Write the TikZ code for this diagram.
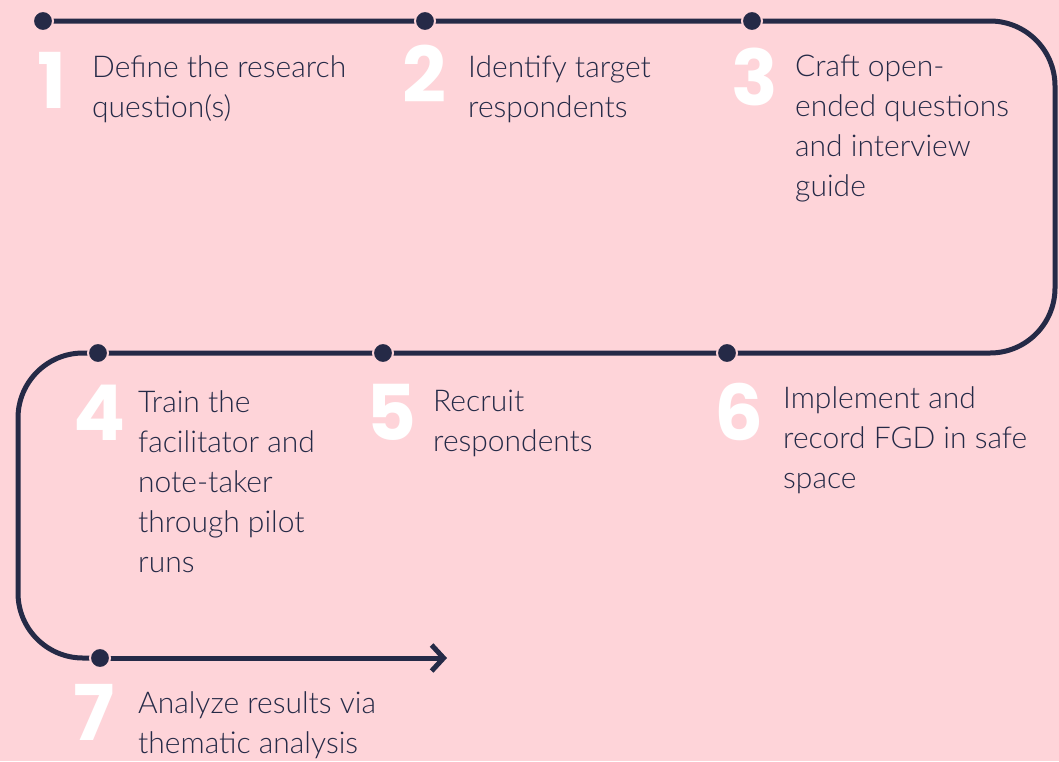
\documentclass[tikz,border=0pt]{standalone}
\usepackage{fontspec}
\IfFontExistsTF{Lato Light}{\setmainfont{Lato Light}}{\setmainfont{Lato}}
\newfontfamily\numfont{Poppins}
\usetikzlibrary{arrows.meta}
\definecolor{bgpink}{HTML}{FED4D9}
\definecolor{navy}{HTML}{252A47}
\tikzset{
  route/.style={draw=navy, line width=5pt, rounded corners=65pt},
  stepdot/.style={circle, fill=navy, draw=bgpink, line width=2pt, minimum size=20pt, inner sep=0pt},
  stepnum/.style={text=white, font=\numfont\bfseries\fontsize{77}{77}\selectfont, inner sep=0pt, anchor=base west},
  steptext/.style={text=navy, font=\fontsize{30}{40}\selectfont, align=left, inner sep=0pt, anchor=north west},
}
\begin{document}
\begin{tikzpicture}[x=1pt, y=-1pt]
  \fill[bgpink] (0,0) rectangle (1059,761);
  \useasboundingbox (0,0) rectangle (1059,761);
  % points of the route
  \coordinate (p1) at (43,21);
  \coordinate (p2) at (425,21);
  \coordinate (p3) at (752,21);
  \coordinate (ne) at (1055,21);
  \coordinate (se) at (1055,353);
  \coordinate (p6) at (727,353);
  \coordinate (p5) at (383,353);
  \coordinate (p4) at (98,353);
  \coordinate (nw) at (18,353);
  \coordinate (sw) at (18,658);
  \coordinate (p7) at (100,658);
  \coordinate (tip) at (447,658);
  % the winding route, turning only at its four corners
  \draw[route] (p1) -- (ne) -- (se) -- (nw) -- (sw) -- (p7);
  \draw[draw=navy, line width=5pt, -{Straight Barb[length=12pt, width=26pt, line width=5pt]}] (p7) -- (tip);
  % dots on the route
  \foreach \p in {p1,p2,p3,p4,p5,p6,p7} \node[stepdot] (dot-\p) at (\p) {};
  % step numbers
  \node[stepnum] (n1) at (37,108) {1};
  \node[stepnum] (n2) at (402,102) {2};
  \node[stepnum] (n3) at (731,105) {3};
  \node[stepnum] (n4) at (73,440) {4};
  \node[stepnum] (n5) at (366,440) {5};
  \node[stepnum] (n6) at (714,440) {6};
  \node[stepnum] (n7) at (73,740) {7};
  % step descriptions
  \node[steptext] (t1) at (92,55) {Define the research\\question(s)};
  \node[steptext] (t2) at (468,55) {Identify target\\respondents};
  \node[steptext] (t3) at (795,55) {Craft open-\\ended questions\\and interview\\guide};
  \node[steptext] (t4) at (138,390) {Train the\\facilitator and\\note-taker\\through pilot\\runs};
  \node[steptext] (t5) at (433,390) {Recruit\\respondents};
  \node[steptext] (t6) at (783,386) {Implement and\\record FGD in safe\\space};
  \node[steptext] (t7) at (138,691) {Analyze results via\\thematic analysis};
\end{tikzpicture}
\end{document}
